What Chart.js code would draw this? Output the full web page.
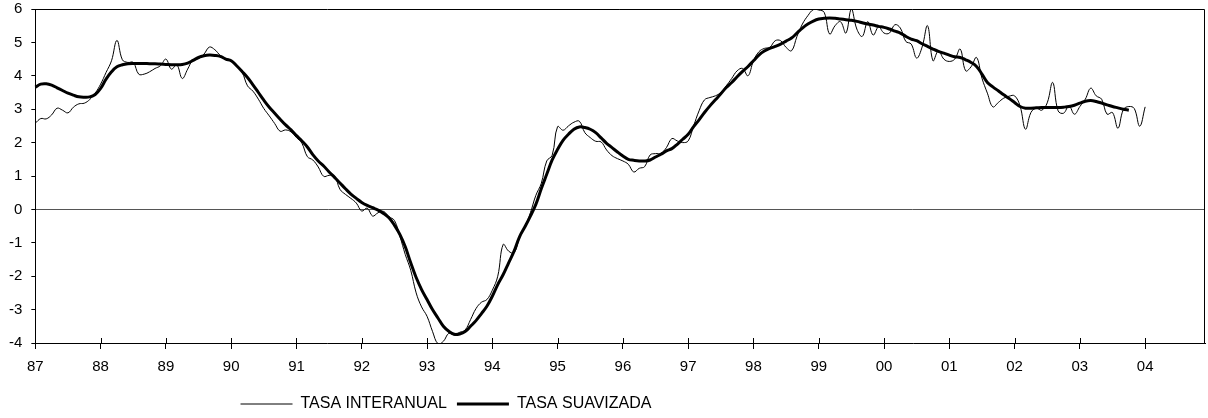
<!DOCTYPE html>
<html style="margin:0;padding:0;overflow:hidden">
<head>
<meta charset="utf-8">
<script src="https://cdn.jsdelivr.net/npm/chart.js@4.4.1/dist/chart.umd.min.js"></script>
</head>
<body style="margin:0;padding:0;overflow:hidden;background:#fff">
<div id="wrap" style="position:fixed;left:0;top:0;width:1208px;height:418px"><canvas id="chart"></canvas></div>
<script>
// Years on the x axis (one category per month, label only in January)
const years = ['87', '88', '89', '90', '91', '92', '93', '94', '95', '96',
  '97', '98', '99', '00', '01', '02', '03', '04']

// Monthly values, Jan 87 onwards
const tasaInteranual = [
  2.58, 2.72, 2.71, 2.83, 3.03, 2.97, 2.89, 3.06, 3.16, 3.18, 3.29, 3.48,
  3.75, 4.10, 4.45, 5.06, 4.48, 4.40, 4.40, 4.05, 4.05, 4.12, 4.22, 4.30,
  4.50, 4.20, 4.33, 3.92, 4.20, 4.48, 4.51, 4.65, 4.86, 4.78, 4.61, 4.52,
  4.46, 4.29, 4.11, 3.70, 3.54, 3.30, 3.02, 2.80, 2.57, 2.34, 2.38, 2.32,
  2.15, 1.98, 1.58, 1.48, 1.27, 0.99, 1.02, 1.00, 0.60, 0.45, 0.33, 0.19,
  -0.05, 0.04, -0.20, -0.10, -0.06, -0.22, -0.33, -0.80, -1.35, -1.82, -2.50, -2.92,
  -3.20, -3.65, -4.02, -3.95, -3.71, -3.76, -3.68, -3.61, -3.30, -2.97, -2.78, -2.70,
  -2.42, -2.00, -1.05, -1.25, -1.30, -0.85, -0.52, -0.10, 0.42, 0.78, 1.45, 1.62,
  2.48, 2.37, 2.50, 2.61, 2.64, 2.30, 2.15, 2.04, 2.02, 1.78, 1.61, 1.52,
  1.45, 1.35, 1.12, 1.23, 1.28, 1.63, 1.67, 1.68, 1.85, 2.12, 2.05, 2.00,
  2.05, 2.50, 2.95, 3.28, 3.35, 3.40, 3.50, 3.70, 3.92, 4.15, 4.22, 4.00,
  4.45, 4.72, 4.82, 4.85, 5.05, 5.05, 4.85, 4.75, 5.18, 5.55, 5.80, 5.98,
  5.97, 5.90, 5.25, 5.50, 5.62, 5.28, 6.00, 5.40, 5.18, 5.62, 5.22, 5.46,
  5.28, 5.28, 5.53, 5.43, 5.03, 4.95, 4.53, 4.86, 5.50, 4.45, 4.75, 4.50,
  4.43, 4.50, 4.80, 4.15, 4.27, 4.55, 3.93, 3.48, 3.07, 3.20, 3.33, 3.39,
  3.40, 3.10, 2.40, 2.90, 3.03, 2.97, 3.19, 3.80, 2.95, 2.88, 3.10, 2.85,
  3.08, 3.30, 3.63, 3.40, 3.30, 2.85, 2.90, 2.43, 2.99, 3.08, 3.02, 2.49,
  3.07
]

const tasaSuavizada = [
  3.66, 3.75, 3.76, 3.72, 3.64, 3.56, 3.48, 3.42, 3.37, 3.36, 3.37, 3.44,
  3.62, 3.90, 4.12, 4.27, 4.33, 4.36, 4.37, 4.37, 4.37, 4.36, 4.36, 4.35,
  4.34, 4.33, 4.33, 4.34, 4.38, 4.46, 4.55, 4.60, 4.62, 4.61, 4.58, 4.50,
  4.45, 4.30, 4.13, 3.95, 3.73, 3.50, 3.27, 3.06, 2.88, 2.70, 2.53, 2.38,
  2.21, 2.05, 1.87, 1.64, 1.45, 1.30, 1.12, 0.96, 0.79, 0.62, 0.46, 0.33,
  0.21, 0.12, 0.05, -0.02, -0.12, -0.25, -0.47, -0.75, -1.12, -1.60, -2.04, -2.40,
  -2.70, -3.00, -3.25, -3.50, -3.65, -3.74, -3.73, -3.66, -3.50, -3.33, -3.12, -2.90,
  -2.60, -2.25, -1.95, -1.60, -1.25, -0.82, -0.52, -0.20, 0.15, 0.62, 1.05, 1.48,
  1.80, 2.07, 2.25, 2.40, 2.47, 2.45, 2.40, 2.30, 2.14, 1.98, 1.85, 1.72,
  1.60, 1.50, 1.47, 1.45, 1.45, 1.48, 1.57, 1.65, 1.75, 1.82, 1.95, 2.10,
  2.25, 2.48, 2.68, 2.90, 3.10, 3.28, 3.46, 3.65, 3.80, 3.97, 4.13, 4.28,
  4.45, 4.62, 4.74, 4.82, 4.88, 4.95, 5.04, 5.13, 5.28, 5.43, 5.55, 5.64,
  5.70, 5.72, 5.73, 5.72, 5.70, 5.68, 5.66, 5.63, 5.59, 5.55, 5.52, 5.48,
  5.45, 5.40, 5.34, 5.28, 5.18, 5.10, 5.05, 4.96, 4.88, 4.80, 4.73, 4.68,
  4.62, 4.57, 4.55, 4.48, 4.40, 4.28, 4.05, 3.80, 3.67, 3.55, 3.43, 3.32,
  3.20, 3.08, 3.03, 3.03, 3.04, 3.05, 3.05, 3.05, 3.05, 3.06, 3.08, 3.12,
  3.18, 3.24, 3.26, 3.23, 3.18, 3.13, 3.08, 3.04, 3.00, 2.97
]

const yMin = -4
const yMax = 6

// one label per month
const monthLabels = years.flatMap(y => Array(12).fill('').map((_, m) => y + '/' + (m + 1)))

const FONT = 'Liberation Sans, Arial, sans-serif'
Chart.defaults.font.family = FONT
Chart.defaults.color = '#000'

// the legend in the original sits left of centre
const LEGEND_CENTER = 446

// frame on top / right and x ticks that cross the axis
const framePlugin = {
  id: 'frame',
  afterLayout(chart) {
    const lg = chart.legend
    if (!lg) return
    const shift = LEGEND_CENTER - (lg.left + lg.right) / 2
    lg.left += shift
    lg.right += shift
  },
  afterDraw(chart) {
    const { ctx, chartArea: a, scales } = chart
    ctx.save()
    ctx.strokeStyle = '#000'
    ctx.lineWidth = 1
    ctx.beginPath()
    ctx.moveTo(a.left, a.top + 0.5)
    ctx.lineTo(a.right - 0.5, a.top + 0.5)
    ctx.lineTo(a.right - 0.5, a.bottom)
    ctx.stroke()
    ctx.beginPath()
    years.forEach((_, i) => {
      const x = Math.round(scales.x.getPixelForValue(i * 12)) + 0.5
      ctx.moveTo(x, a.bottom - 5)
      ctx.lineTo(x, a.bottom)
    })
    ctx.stroke()
    ctx.restore()
  }
}

const lineBase = { borderColor: '#000', pointRadius: 0, pointHoverRadius: 0, pointHitRadius: 0, tension: 0.4 }

new Chart(document.getElementById('chart'), {
  type: 'line',
  data: {
    labels: monthLabels,
    datasets: [
      { ...lineBase, label: 'TASA INTERANUAL', data: tasaInteranual, borderWidth: 1, pointBorderWidth: 1 },
      { ...lineBase, label: 'TASA SUAVIZADA', data: tasaSuavizada, borderWidth: 3, pointBorderWidth: 3 }
    ]
  },
  options: {
    responsive: true,
    maintainAspectRatio: false,
    animation: false,
    devicePixelRatio: 1,
    layout: { autoPadding: false, padding: { left: 0, right: 3, top: 9, bottom: -4 } },
    plugins: {
      tooltip: { enabled: false },
      legend: {
        position: 'bottom',
        labels: {
          usePointStyle: true,
          pointStyle: 'line',
          pointStyleWidth: 52,
          boxHeight: 3,
          padding: 10,
          color: '#000',
          font: { size: 16, family: FONT }
        }
      }
    },
    scales: {
      x: {
        offset: false,
        border: { display: true, color: '#000', width: 1 },
        grid: {
          drawOnChartArea: false,
          drawTicks: true,
          tickLength: 6,
          color: c => (c.index % 12 === 0 ? '#000' : 'rgba(0,0,0,0)')
        },
        ticks: {
          autoSkip: false,
          maxRotation: 0,
          padding: 9,
          font: { size: 15 },
          callback: (v, i) => (i % 12 === 0 ? years[i / 12] : '')
        },
        afterFit: s => { s.height += 1; s.paddingLeft = 0; s.paddingRight = 0 }
      },
      y: {
        min: yMin,
        max: yMax,
        border: { display: true, color: '#000', width: 1 },
        grid: {
          drawOnChartArea: true,
          drawTicks: true,
          tickLength: 4,
          tickColor: '#000',
          color: c => (c.tick && c.tick.value === 0 ? '#555' : 'rgba(0,0,0,0)')
        },
        ticks: {
          stepSize: 1,
          padding: 9,
          font: { size: 15 }
        },
        afterFit: s => { s.paddingTop = 0; s.paddingBottom = 0 }
      }
    }
  },
  plugins: [framePlugin]
})
</script>
</body>
</html>
